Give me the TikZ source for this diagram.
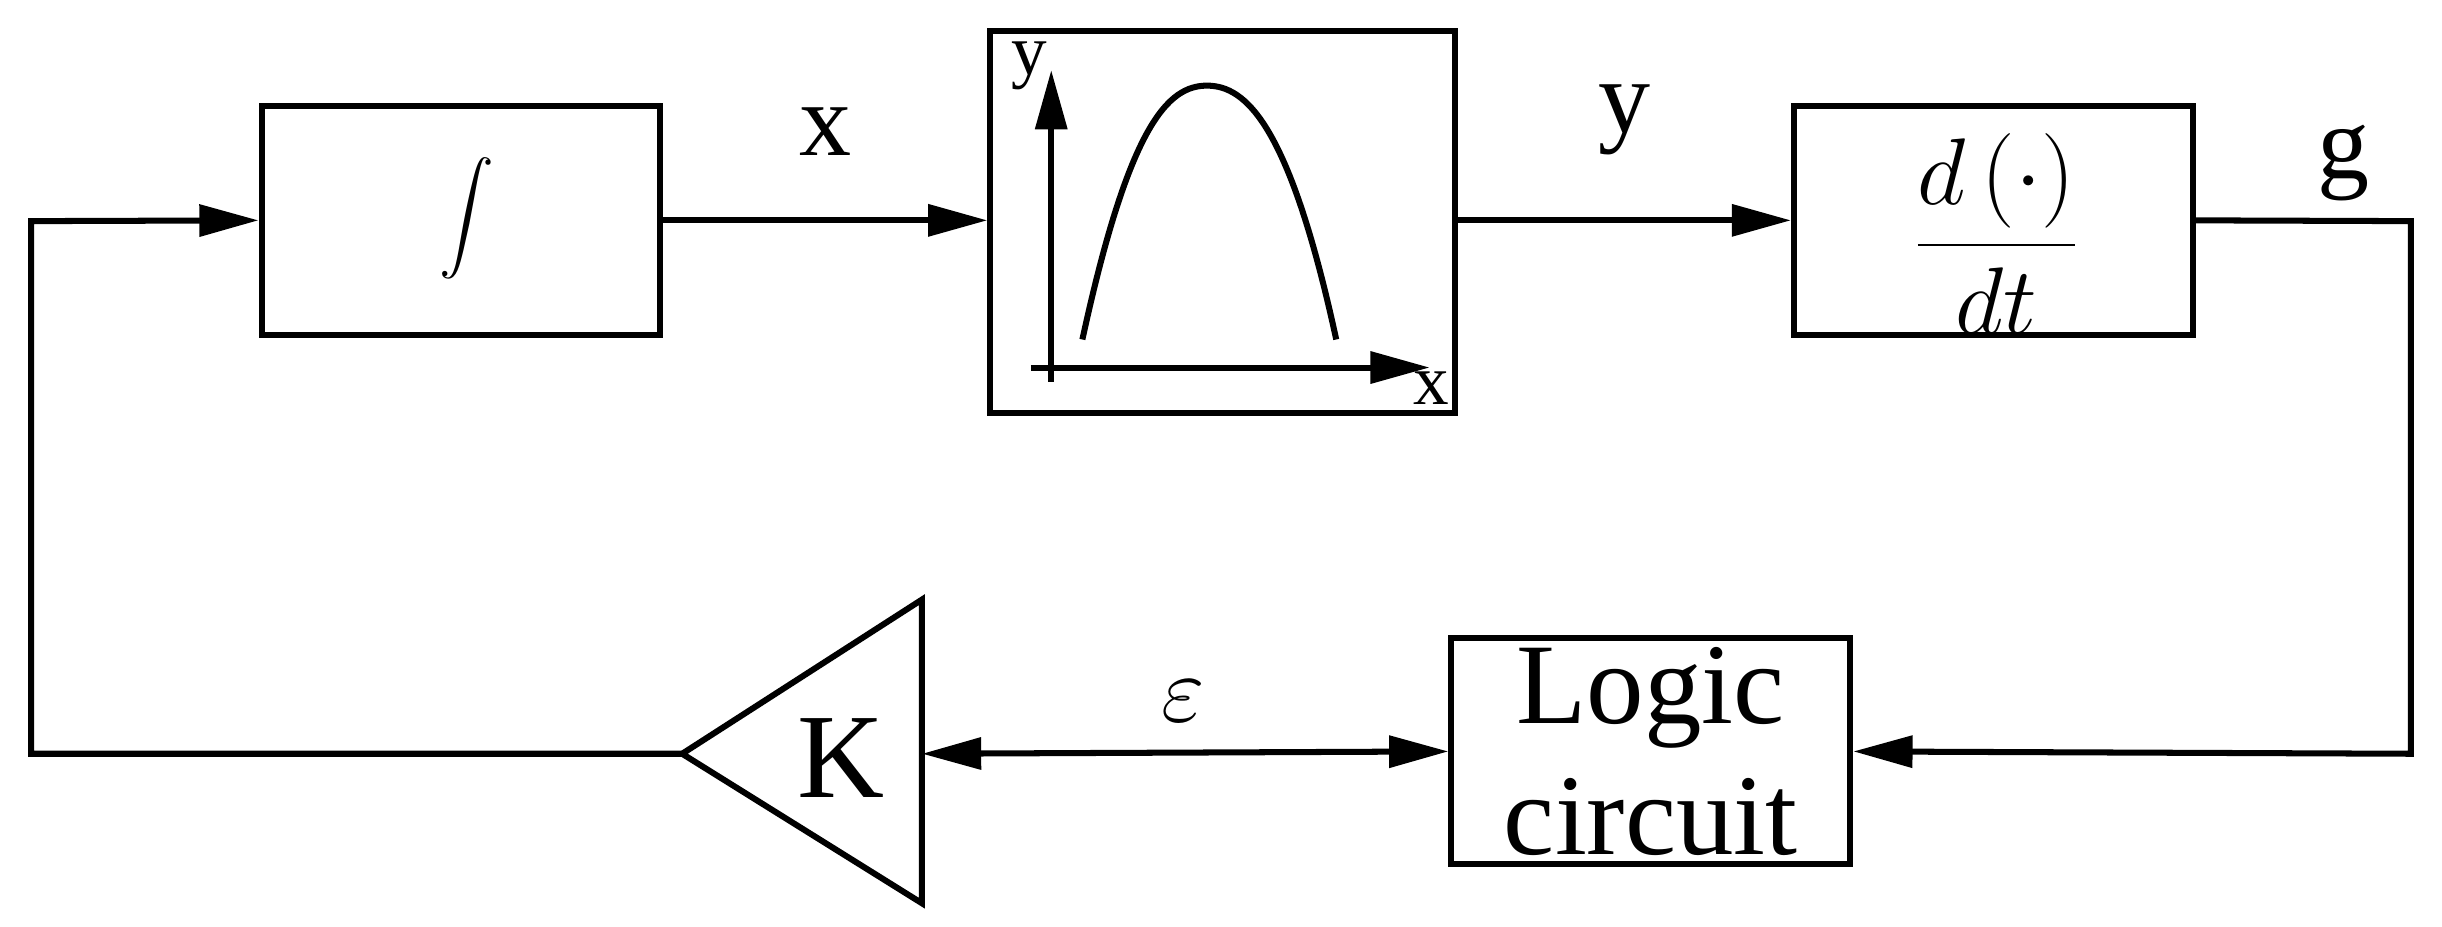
\documentclass[tikz,border=0pt]{standalone}
\usepackage{fontspec}
\setmainfont{Liberation Serif}
\usetikzlibrary{arrows.meta}
\begin{document}
\begin{tikzpicture}[x=0.01cm,y=-0.01cm,line width=1.1pt,
  blk/.style={draw,minimum width=2.56cm,minimum height=1.47cm,inner sep=0pt},
  arr/.style={-{Triangle[length=0.38cm,width=0.2cm]}},
  lbl/.style={font=\fontsize{19}{22}\selectfont}]
\useasboundingbox (0,0) rectangle (1568,595);
\node[blk] (int) at (296,141.5) {};
\node[lbl] at (300,140) {\fontsize{30}{30}\selectfont$\displaystyle\int$};
\node[draw,minimum width=2.98cm,minimum height=2.45cm,inner sep=0pt] (plot) at (785,142.5) {};
\node[blk] (der) at (1280,141.5) {};
\node[lbl] at (1282,150) {$\displaystyle\frac{d\,(\cdot)}{dt}$};
\node[draw,minimum width=2.56cm,minimum height=1.45cm,inner sep=0pt,align=center,lbl,font=\fontsize{21}{24}\selectfont] (logic) at (1060,482.5) {Logic\\circuit};
\draw (438,484) -- (592,385) -- (592,580) -- cycle;
\coordinate (ktip) at (438,484);
\coordinate (kr) at (592,484);
\node[lbl,font=\fontsize{22}{24}\selectfont] (k) at (540,487) {K};
% plot
\coordinate (ya0) at (675,245); \coordinate (ya1) at (675,45);
\coordinate (xa0) at (662,236); \coordinate (xa1) at (918,236);
\draw[arr] (ya0) -- (ya1);
\draw[arr] (xa0) -- (xa1);
\node[font=\fontsize{13}{14}\selectfont] (ylab) at (661,42) {y};
\node[font=\fontsize{13}{14}\selectfont] (xlab) at (919,249) {x};
\draw (695,218) .. controls (725,80) and (750,55) .. (775,55) .. controls (800,55) and (828,80) .. (858,218);
% connectors
\draw[arr] (int.east) -- (plot.west |- int.east) node[midway,above=8pt,lbl] (xl) {x};
\draw[arr] (plot.east |- int.east) -- (der.west) node[midway,above=8pt,lbl] (yl) {y};
\coordinate (c1) at (1548,142);
\coordinate (c2) at (1548,484);
\draw[arr] (der.east) -- (c1) -- (c2) -- (logic.east);
\node[lbl] (gl) at (1505,105) {g};
\draw[{Triangle[length=0.38cm,width=0.2cm]}-{Triangle[length=0.38cm,width=0.2cm]}] (kr) -- (logic.west);
\node[lbl] (eps) at (760,450) {$\varepsilon$};
\coordinate (c3) at (20,484);
\coordinate (c4) at (20,142);
\draw[arr] (ktip) -- (c3) -- (c4) -- (int.west);
\end{tikzpicture}
\end{document}
